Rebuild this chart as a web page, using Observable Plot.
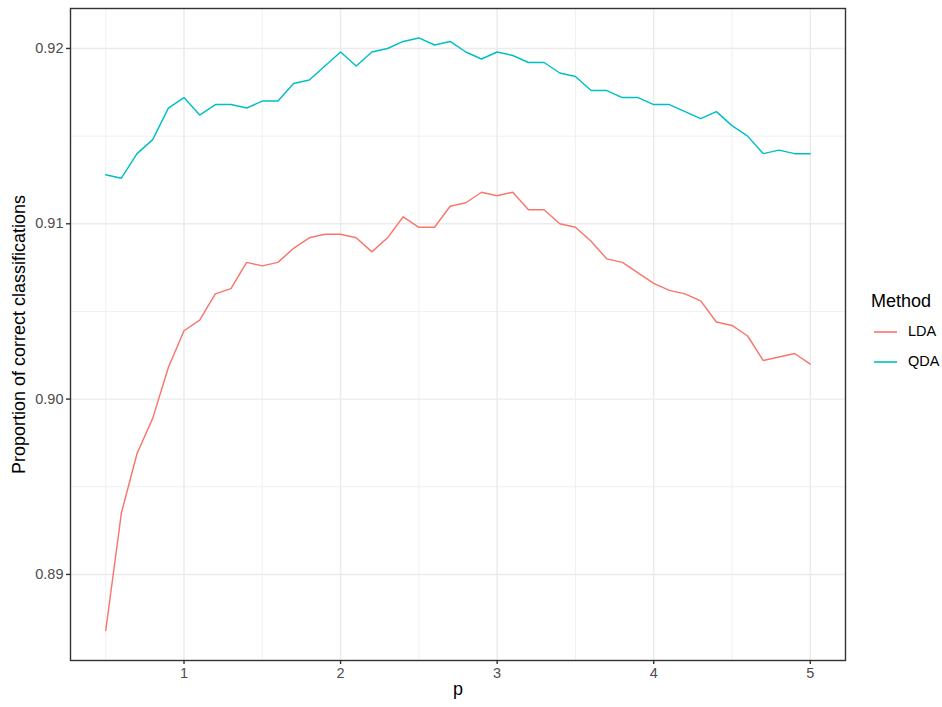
<!DOCTYPE html>
<html>
<head>
<meta charset="utf-8">
<script src="https://cdn.jsdelivr.net/npm/d3@7"></script>
<script src="https://cdn.jsdelivr.net/npm/@observablehq/plot@0.6"></script>
<style>
  html, body { margin: 0; padding: 0; background: #fff; }
  #wrap { position: relative; width: 942px; height: 707px; font-family: "Liberation Sans", Arial, sans-serif; }
  .lg { position: absolute; line-height: 1; color: #000; white-space: nowrap; }
  .lg.title { font-size: 18px; }
  .lg.label { font-size: 14.5px; }
  .lg.key { display: block; }
</style>
</head>
<body>
<div id="wrap"></div>
<script>
const pValues = [0.5,0.6,0.7,0.8,0.9,1.0,1.1,1.2,1.3,1.4,1.5,1.6,1.7,1.8,1.9,2.0,2.1,2.2,2.3,2.4,2.5,2.6,2.7,2.8,2.9,3.0,3.1,3.2,3.3,3.4,3.5,3.6,3.7,3.8,3.9,4.0,4.1,4.2,4.3,4.4,4.5,4.6,4.7,4.8,4.9,5.0];
const ldaValues = [0.8868,0.8935,0.8969,0.8989,0.9018,0.9039,0.9045,0.9060,0.9063,0.9078,0.9076,0.9078,0.9086,0.9092,0.9094,0.9094,0.9092,0.9084,0.9092,0.9104,0.9098,0.9098,0.9110,0.9112,0.9118,0.9116,0.9118,0.9108,0.9108,0.9100,0.9098,0.9090,0.9080,0.9078,0.9072,0.9066,0.9062,0.9060,0.9056,0.9044,0.9042,0.9036,0.9022,0.9024,0.9026,0.9020];
const qdaValues = [0.9128,0.9126,0.9140,0.9148,0.9166,0.9172,0.9162,0.9168,0.9168,0.9166,0.9170,0.9170,0.9180,0.9182,0.9190,0.9198,0.9190,0.9198,0.9200,0.9204,0.9206,0.9202,0.9204,0.9198,0.9194,0.9198,0.9196,0.9192,0.9192,0.9186,0.9184,0.9176,0.9176,0.9172,0.9172,0.9168,0.9168,0.9164,0.9160,0.9164,0.9156,0.9150,0.9140,0.9142,0.9140,0.9140];
const methods = ["LDA", "QDA"];
const colors = ["#F8766D", "#00BFC4"];
const xTicks = [1, 2, 3, 4, 5];
const xMinor = [0.5, 1.5, 2.5, 3.5, 4.5];
const yTicks = [0.89, 0.90, 0.91, 0.92];
const yMinor = [0.895, 0.905, 0.915];

const data = [
  ...pValues.map((p, i) => ({p, value: ldaValues[i], method: methods[0]})),
  ...pValues.map((p, i) => ({p, value: qdaValues[i], method: methods[1]}))
];

const chart = Plot.plot({
  width: 942,
  height: 707,
  marginLeft: 70,
  marginRight: 97,
  marginTop: 8,
  marginBottom: 47,
  style: { fontFamily: "Liberation Sans, Arial, sans-serif", fontSize: "14.5px", background: "#fff" },
  x: { domain: [0.275, 5.225] },
  y: { domain: [0.88509, 0.92228] },
  color: { domain: methods, range: colors },
  marks: [
    Plot.gridX(xMinor, { stroke: "#ebebeb", strokeOpacity: 1, strokeWidth: 0.75 }),
    Plot.gridY(yMinor, { stroke: "#ebebeb", strokeOpacity: 1, strokeWidth: 0.75 }),
    Plot.gridX(xTicks, { stroke: "#ebebeb", strokeOpacity: 1, strokeWidth: 1.45 }),
    Plot.gridY(yTicks, { stroke: "#ebebeb", strokeOpacity: 1, strokeWidth: 1.45 }),
    Plot.line(data, { x: "p", y: "value", z: "method", stroke: "method", strokeWidth: 1.45 }),
    Plot.frame({ stroke: "#333333", strokeWidth: 1.4 }),
    Plot.axisX({ ticks: xTicks, tickSize: 4, tickPadding: 3, tickFormat: d3.format("d"), stroke: "#333333", strokeWidth: 1.4, fill: "#4d4d4d", label: null }),
    Plot.axisY({ ticks: yTicks, tickSize: 4, tickPadding: 3, tickFormat: d3.format(".2f"), stroke: "#333333", strokeWidth: 1.4, fill: "#4d4d4d", label: null }),
    Plot.text(["p"], { frameAnchor: "bottom", dy: 29, lineAnchor: "middle", fontSize: 18, fill: "#000" }),
    Plot.text(["Proportion of correct classifications"], { frameAnchor: "left", textAnchor: "middle", lineAnchor: "middle", rotate: -90, dx: -51, fontSize: 18, fill: "#000" })
  ]
});

const wrap = document.getElementById("wrap");
wrap.appendChild(chart);

function addDiv(cls, text, left, top) {
  const d = document.createElement("div");
  d.className = "lg " + cls;
  if (text) d.textContent = text;
  d.style.left = left + "px";
  d.style.top = top + "px";
  wrap.appendChild(d);
  return d;
}
addDiv("title", "Method", 871, 292);
const rowY = [332, 362];
methods.forEach((m, i) => {
  const k = addDiv("key", "", 874, rowY[i] - 3);
  k.innerHTML = `<svg width="24" height="6" style="display:block"><line x1="0" y1="3" x2="23" y2="3" stroke="${colors[i]}" stroke-width="1.6"/></svg>`;
  addDiv("label", m, 908, rowY[i] - 8);
});
</script>
</body>
</html>
